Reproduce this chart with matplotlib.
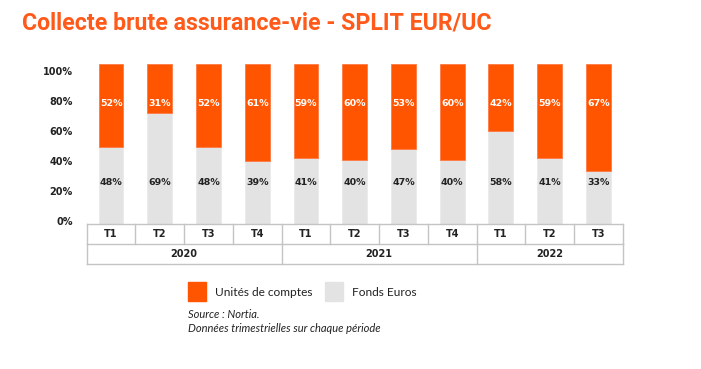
import matplotlib
matplotlib.use("Agg")
import matplotlib.pyplot as plt
from matplotlib.patches import Rectangle
import numpy as np

quarters = ["T1", "T2", "T3", "T4", "T1", "T2", "T3", "T4", "T1", "T2", "T3"]
years = ["2020", "2021", "2022"]
year_counts = [4, 4, 3]
uc = [52, 31, 52, 61, 59, 60, 53, 60, 42, 59, 67]
euros = [48, 69, 48, 39, 41, 40, 47, 40, 58, 41, 33]
tick_labels = ["0%", "20%", "40%", "60%", "80%", "100%"]

ORANGE = "#FF5500"
GREY = "#E3E3E3"
LINE = "#C4C4C4"
DARK = "#222222"

W, H = 701, 369
fig = plt.figure(figsize=(W / 100, H / 100), dpi=100)

def frame(x0, y0, x1, y1):
    return [x0 / W, 1 - y1 / H, (x1 - x0) / W, (y1 - y0) / H]

ax = fig.add_axes(frame(86.7, 64, 622.7, 223.5))
x = np.arange(len(quarters))
ax.bar(x, euros, width=0.51, color=GREY, edgecolor="#EBEBEB", linewidth=0.6)
ax.bar(x, uc, width=0.51, bottom=euros, color=ORANGE, edgecolor="#FF7A45", linewidth=0.6)
for i in range(len(x)):
    ax.text(x[i], 75, f"{uc[i]}%", ha="center", va="center", color="white",
            fontsize=6.8, fontweight="bold", family="DejaVu Sans")
    ax.text(x[i], 26, f"{euros[i]}%", ha="center", va="center", color=DARK,
            fontsize=6.8, fontweight="bold", family="DejaVu Sans")
ax.set_xlim(-0.5, len(x) - 0.5)
ax.set_ylim(0, 100)
ax.set_yticks(np.linspace(1.5, 95.6, len(tick_labels)))
ax.set_yticklabels(tick_labels, fontsize=7, fontweight="bold", color=DARK, family="DejaVu Sans")
ax.tick_params(axis="y", length=0, pad=9.9)
ax.set_xticks([])
for s in ax.spines.values():
    s.set_visible(False)

# category table
tx = fig.add_axes(frame(86.7, 224, 622.7, 264.3))
tx.set_xlim(-0.5, len(x) - 0.5)
tx.set_ylim(0, 2)
tx.axis("off")
lw = 1.0
for yy in (0, 1, 2):
    tx.plot([-0.5, len(x) - 0.5], [yy, yy], color=LINE, lw=lw, clip_on=False)
for i in range(len(x) + 1):
    tx.plot([i - 0.5, i - 0.5], [1, 2], color=LINE, lw=lw, clip_on=False)
for i, q in enumerate(quarters):
    tx.text(i, 1.5, q, ha="center", va="center", fontsize=7, fontweight="bold",
            color=DARK, family="DejaVu Sans")
start = 0
for yname, n in zip(years, year_counts):
    tx.plot([start - 0.5, start - 0.5], [0, 1], color=LINE, lw=lw, clip_on=False)
    tx.text(start + (n - 1) / 2, 0.5, yname, ha="center", va="center", fontsize=7,
            fontweight="bold", color=DARK, family="DejaVu Sans")
    start += n
tx.plot([start - 0.5, start - 0.5], [0, 1], color=LINE, lw=lw, clip_on=False)

# title
fig.text(22 / W, 1 - 23 / H, "Collecte brute assurance-vie - SPLIT EUR/UC",
         color="#FF5A1A", fontsize=16.7, fontweight="bold", family="Roboto",
         ha="left", va="center")

# legend
fig.patches.append(Rectangle((188 / W, 1 - 300.7 / H), 17.7 / W, 18.7 / H,
                             transform=fig.transFigure, color=ORANGE))
fig.text(215 / W, 1 - 292 / H, "Unités de comptes", fontsize=8.6, family="Lato",
         color=DARK, ha="left", va="center")
fig.patches.append(Rectangle((325 / W, 1 - 300.7 / H), 17.7 / W, 18.7 / H,
                             transform=fig.transFigure, color=GREY))
fig.text(351.7 / W, 1 - 292 / H, "Fonds Euros", fontsize=8.6, family="Lato",
         color=DARK, ha="left", va="center")

fig.text(188 / W, 1 - 315 / H, "Source : Nortia.", fontsize=8, family="Lato",
         style="italic", color=DARK, ha="left", va="center")
fig.text(188 / W, 1 - 328 / H, "Données trimestrielles sur chaque période", fontsize=8,
         family="Lato", style="italic", color=DARK, ha="left", va="center")

fig.savefig("out.png", dpi=100)
